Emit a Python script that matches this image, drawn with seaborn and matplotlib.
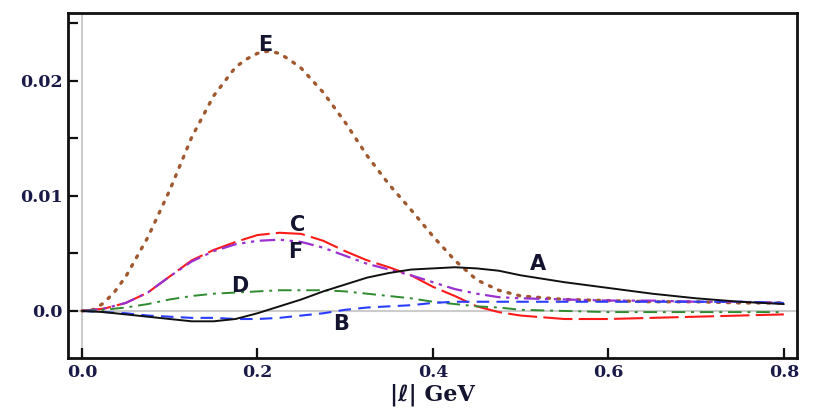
import matplotlib
matplotlib.use("Agg")
import matplotlib.pyplot as plt
import seaborn as sns
import pandas as pd

sns.set_theme(style="white")

x = [0, 0.025, 0.05, 0.075, 0.1, 0.125, 0.15, 0.175, 0.2, 0.225, 0.25, 0.275,
     0.3, 0.325, 0.35, 0.375, 0.4, 0.425, 0.45, 0.475, 0.5, 0.55, 0.6, 0.65,
     0.7, 0.75, 0.8]

A = [0, -0.0001, -0.0003, -0.0005, -0.0007, -0.0009, -0.0009, -0.0007, -0.0002,
     0.0004, 0.0010, 0.0017, 0.0023, 0.0029, 0.0033, 0.0036, 0.0037, 0.0038,
     0.0037, 0.0035, 0.0031, 0.0025, 0.0020, 0.0015, 0.0011, 0.0008, 0.0006]
B = [0, -0.0001, -0.0002, -0.0004, -0.0005, -0.0006, -0.0006, -0.0007, -0.0007,
     -0.0006, -0.0004, -0.0002, 0.0001, 0.0003, 0.0004, 0.0005, 0.0007, 0.0008,
     0.0008, 0.0008, 0.0008, 0.0008, 0.0008, 0.0008, 0.0008, 0.0008, 0.0007]
C = [0, 0.0002, 0.0007, 0.0016, 0.0030, 0.0044, 0.0053, 0.0060, 0.0066, 0.0068,
     0.0067, 0.0061, 0.0052, 0.0044, 0.0038, 0.0031, 0.0021, 0.0013, 0.0004,
     -0.0001, -0.0004, -0.0007, -0.0007, -0.0006, -0.0005, -0.0004, -0.0003]
D = [0, 0.0001, 0.0003, 0.0006, 0.0010, 0.0013, 0.0015, 0.0016, 0.0017, 0.0018,
     0.0018, 0.0018, 0.0017, 0.0015, 0.0013, 0.0011, 0.0008, 0.0006, 0.0004,
     0.0003, 0.0001, 0.0000, -0.0001, -0.0001, -0.0001, -0.0001, -0.0001]
F = [0, 0.0002, 0.0007, 0.0016, 0.0030, 0.0043, 0.0052, 0.0058, 0.0061, 0.0062,
     0.0060, 0.0055, 0.0048, 0.0041, 0.0036, 0.0031, 0.0025, 0.0019, 0.0015,
     0.0012, 0.0011, 0.0010, 0.0009, 0.0009, 0.0008, 0.0008, 0.0007]

# E has a sharper peak, so it is read at a few extra positions
x_E = [0, 0.0125, 0.025, 0.0375, 0.05, 0.075, 0.1, 0.125, 0.15, 0.175, 0.1875,
       0.2, 0.2125, 0.225, 0.2375, 0.25, 0.275, 0.3, 0.325, 0.35, 0.375, 0.4,
       0.425, 0.45, 0.475, 0.5, 0.55, 0.6, 0.65, 0.7, 0.75, 0.8]
E = [0, 0.0001, 0.0007, 0.0017, 0.0030, 0.0064, 0.0105, 0.0151, 0.0187, 0.0212,
     0.0219, 0.0224, 0.0226, 0.0224, 0.0218, 0.0211, 0.0190, 0.0164, 0.0135,
     0.0110, 0.0088, 0.0065, 0.0044, 0.0027, 0.0018, 0.0013, 0.0010, 0.0009,
     0.0008, 0.0008, 0.0007, 0.0007]

series_names = ["E", "C", "F", "D", "B", "A"]
series_values = {"A": A, "B": B, "C": C, "D": D, "E": E, "F": F}
series_x = {"A": x, "B": x, "C": x, "D": x, "E": x_E, "F": x}

# label anchor positions (data coords)
label_x = {"E": 0.209, "C": 0.246, "F": 0.243, "D": 0.180, "B": 0.295, "A": 0.520}
label_y = {"E": 0.0231, "C": 0.0075, "F": 0.0051, "D": 0.0022, "B": -0.0011, "A": 0.0041}

xticks = [0.0, 0.2, 0.4, 0.6, 0.8]
xticklabels = ["0.0", "0.2", "0.4", "0.6", "0.8"]
yticks = [0.0, 0.005, 0.01, 0.015, 0.02, 0.025]
yticklabels = ["0.0", "", "0.01", "", "0.02", ""]

styles = {
    "A": dict(color="#111111", linestyle="-", lw=1.4),
    "B": dict(color="#2a3cff", linestyle=(0, (6, 3.5)), lw=1.5),
    "C": dict(color="#ff1a1a", linestyle=(0, (14, 3)), lw=1.5),
    "D": dict(color="#2e8b2e", linestyle=(0, (7, 3, 1.5, 3)), lw=1.4),
    "E": dict(color="#a0582f", linestyle=(0, (0.6, 2.4)), lw=2.4),
    "F": dict(color="#9b30d0", linestyle=(0, (7, 2.5, 1.5, 2.5, 1.5, 2.5)), lw=1.6),
}

fig = plt.figure(figsize=(8.17, 4.13), dpi=100)
ax = fig.add_axes([0.0832, 0.1332, 0.8923, 0.8353])

ax.axhline(0, color="#cccccc", lw=1.5, zorder=0)
ax.axvline(0, color="#cccccc", lw=1.5, zorder=0)

for name in series_names:
    df = pd.DataFrame({"x": series_x[name], "y": series_values[name]})
    st = styles[name]
    sns.lineplot(data=df, x="x", y="y", ax=ax, color=st["color"],
                 linestyle=st["linestyle"], linewidth=st["lw"],
                 dash_capstyle="round" if name == "E" else "butt")

for name in series_names:
    ax.text(label_x[name], label_y[name], name, ha="center", va="center",
            fontsize=15, fontweight="bold", color="#141430",
            family="DejaVu Sans")

ax.set_xlim(-0.016, 0.815)
ax.set_ylim(-0.00409, 0.02591)
ax.set_xticks(xticks)
ax.set_xticklabels(xticklabels)
ax.set_yticks(yticks)
ax.set_yticklabels(yticklabels)
ax.set_xlabel("|ℓ| GeV", fontsize=16, fontweight="bold",
              family=["DejaVu Serif", "DejaVu Sans", "Noto Sans", "Liberation Serif"],
              color="#141430", labelpad=2)
ax.set_ylabel("")

for lab in ax.get_xticklabels() + ax.get_yticklabels():
    lab.set_fontfamily("DejaVu Serif")
    lab.set_fontweight("bold")
    lab.set_fontsize(12.5)
    lab.set_color("#1a1a48")

ax.tick_params(direction="in", length=7, width=1.6, colors="#111111",
               labelcolor="#1a1a48", pad=4, left=True, bottom=True)
for sp in ax.spines.values():
    sp.set_visible(True)
    sp.set_color("#111111")
    sp.set_linewidth(2.0)

fig.savefig("out.png", dpi=100)
